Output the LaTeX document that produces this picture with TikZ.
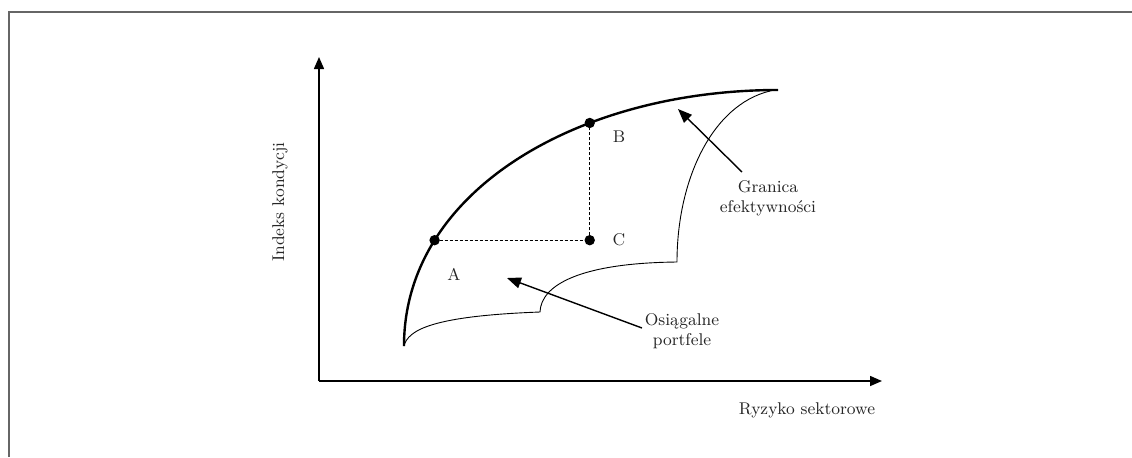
\documentclass[tikz,border=0pt]{standalone}
\usetikzlibrary{arrows.meta}
\begin{document}
\begin{tikzpicture}[x=0.5pt,y=-0.5pt,
  txt/.style={font=\fontsize{8.5}{10}\selectfont, inner sep=0pt, text=black!85},
  axis/.style={line width=0.75pt, -{Triangle[length=6pt,width=5pt]}},
  pointer/.style={line width=0.7pt, -{Triangle[length=7pt,width=5.5pt]}},
  frontier/.style={line width=1.2pt},
  boundary/.style={line width=0.45pt},
  guide/.style={line width=0.45pt, dash pattern=on 1.5pt off 1pt},
  dot/.style={circle, fill=black, inner sep=0pt, minimum size=5.2pt}]
\useasboundingbox (0,0) rectangle (1132,457);
% frame
\draw[line width=1pt, black!60] (9,457) -- (9,12) -- (1132,12);
% axes
\coordinate (O) at (319,381);
\coordinate (ytip) at (319,57);
\coordinate (xtip) at (882,381);
\draw[axis] (O) -- (ytip);
\draw[axis] (O) -- (xtip);
% attainable set boundary
\draw[boundary] (404,346) .. controls (408,330) and (432,316) .. (540,312)
  .. controls (541,285) and (580,263) .. (677,262)
  .. controls (677,180) and (712,105) .. (770,91);
% efficient frontier
\draw[frontier] (404,346) .. controls (404,190) and (580,90) .. (778,90)
  coordinate[pos=0.25] (A) coordinate[pos=0.66] (B);
\coordinate (C) at (A -| B);
\draw[guide] (A) -- (C) -- (B);
\node[dot] (dA) at (A) {};
\node[dot] (dB) at (B) {};
\node[dot] (dC) at (C) {};
\node[txt] (lA) at (454,274) {A};
\node[txt] (lB) at (619,137) {B};
\node[txt] (lC) at (619,240) {C};
% labels with pointers
\node[txt, align=center] (osi) at (682,331) {Osiągalne\\portfele};
\node[txt, align=center] (gra) at (768,198) {Granica\\efektywności};
\coordinate (ositail) at (642,328);
\coordinate (ositip) at (507,278);
\coordinate (gratail) at (742,172);
\coordinate (gratip) at (678,109);
\draw[pointer] (ositail) -- (ositip);
\draw[pointer] (gratail) -- (gratip);
% axis titles
\node[txt, rotate=90] (ylab) at (280,202) {Indeks kondycji};
\node[txt] (xlab) at (807,410) {Ryzyko sektorowe};
\end{tikzpicture}
\end{document}
